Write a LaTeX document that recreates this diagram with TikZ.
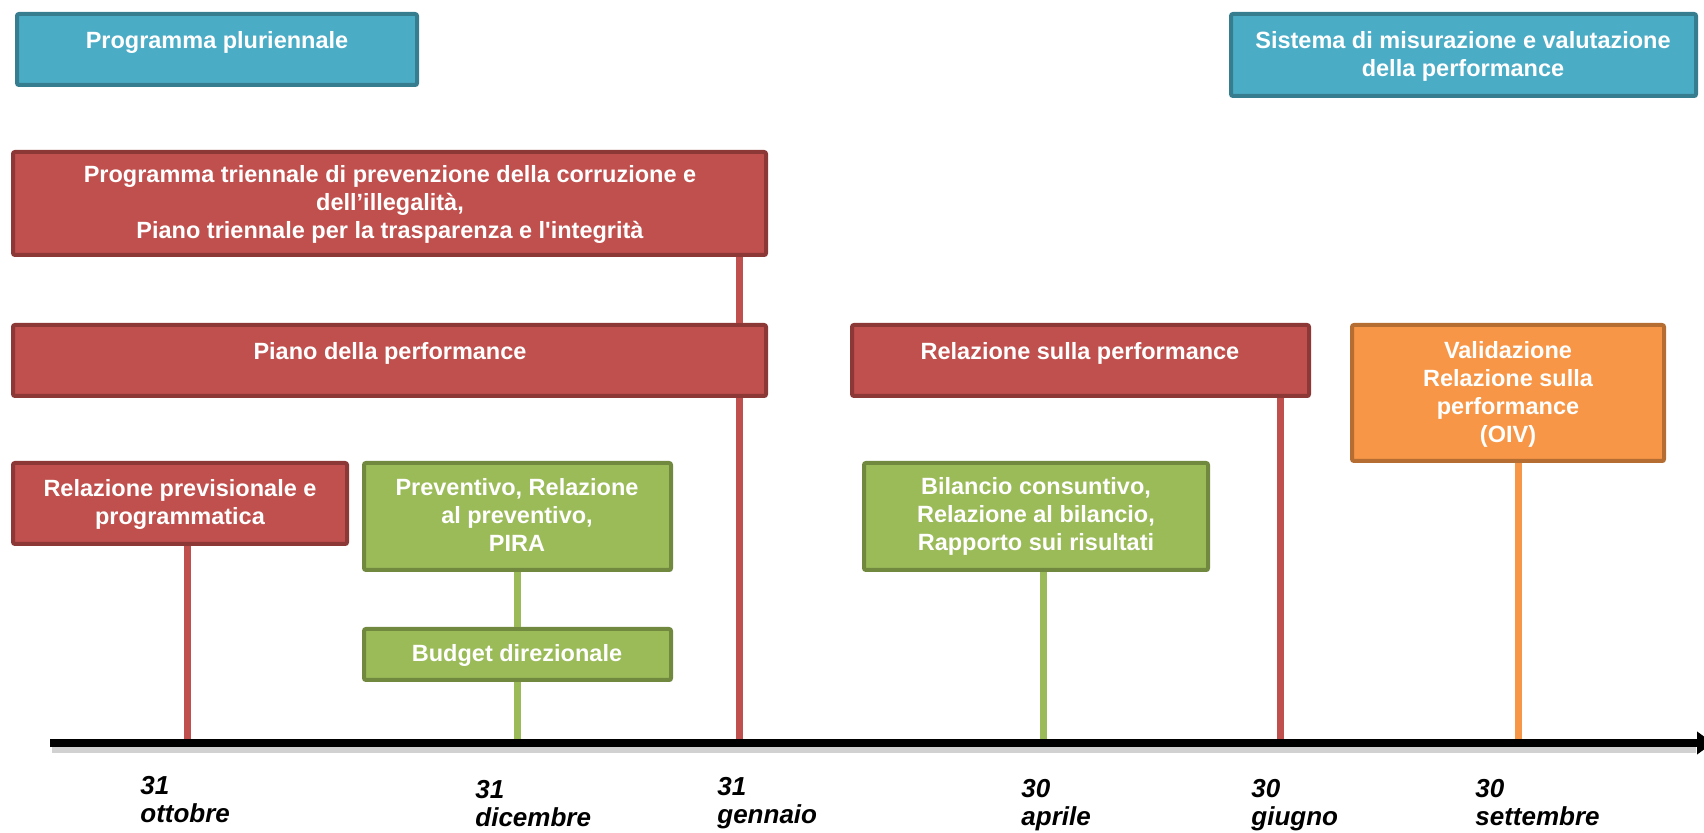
\documentclass[tikz,border=0pt]{standalone}
\usepackage{fontspec}
\setmainfont{Liberation Sans}
\newfontfamily\labfont{Liberation Sans}
\usetikzlibrary{arrows.meta,shadows}

\definecolor{tealfill}{HTML}{4BACC6}
\definecolor{tealedge}{HTML}{367D90}
\definecolor{redfill}{HTML}{C0504D}
\definecolor{rededge}{HTML}{8C3836}
\definecolor{greenfill}{HTML}{9BBB59}
\definecolor{greenedge}{HTML}{71893F}
\definecolor{orangefill}{HTML}{F79646}
\definecolor{orangeedge}{HTML}{B66D31}

\begin{document}
\begin{tikzpicture}[x=0.5pt,y=-0.5pt,
  card/.style={draw, line width=2pt, rounded corners=1pt, inner sep=0pt, anchor=north west,
    drop shadow={opacity=0.18, shadow xshift=0.8pt, shadow yshift=-1pt}},
  tealcard/.style={card, fill=tealfill, draw=tealedge},
  redcard/.style={card, fill=redfill, draw=rededge},
  greencard/.style={card, fill=greenfill, draw=greenedge},
  orangecard/.style={card, fill=orangefill, draw=orangeedge},
  % multi-line texts are placed by the baseline of their last line
  cardtext/.style={text=white, font=\labfont\bfseries\fontsize{11.75}{14}\selectfont,
    align=center, anchor=base, inner sep=0pt},
  datetext/.style={font=\labfont\bfseries\itshape\fontsize{13}{14}\selectfont,
    align=left, anchor=base west, inner sep=0pt},
  stem/.style={line width=3.5pt},
]
\useasboundingbox (0,0) rectangle (1704,833);

% ---- framework boxes
\node[tealcard, minimum width=200pt, minimum height=35.5pt] (plur) at (15,12) {};
\node[cardtext] (plurtxt) at (217,49) {Programma pluriennale};

\node[tealcard, minimum width=232.5pt, minimum height=41pt] (sist) at (1229,12) {};
\node[cardtext] (sisttxt) at (1463,77) {Sistema di misurazione e valutazione\\della performance};

% ---- planning documents
\node[redcard, minimum width=376.5pt, minimum height=51.5pt] (trien) at (11,150) {};
\node[cardtext] (trientxt) at (390,239)
  {Programma triennale di prevenzione della corruzione e\\dell’illegalità,\\Piano triennale per la trasparenza e l'integrità};

\node[redcard, minimum width=376.5pt, minimum height=35.5pt] (piano) at (11,323) {};
\node[cardtext] (pianotxt) at (390,360) {Piano della performance};

\node[redcard, minimum width=228.5pt, minimum height=35.5pt] (relperf) at (850,323) {};
\node[cardtext] (relperftxt) at (1080,360) {Relazione sulla performance};

\node[orangecard, minimum width=156pt, minimum height=68pt] (valid) at (1350,323) {};
\node[cardtext] (validtxt) at (1508,443) {Validazione\\Relazione sulla\\performance\\(OIV)};

\node[redcard, minimum width=167pt, minimum height=40.5pt] (relprev) at (11,461) {};
\node[cardtext] (relprevtxt) at (180,525) {Relazione previsionale e\\programmatica};

% ---- budget documents
\node[greencard, minimum width=153.5pt, minimum height=53.5pt] (prev) at (362,461) {};
\node[cardtext] (prevtxt) at (517,552) {Preventivo, Relazione\\al preventivo,\\PIRA};

\node[greencard, minimum width=153.5pt, minimum height=25.5pt] (budget) at (362,627) {};
\node[cardtext] (budgettxt) at (517,662) {Budget direzionale};

\node[greencard, minimum width=172pt, minimum height=53.5pt] (bilancio) at (862,461) {};
\node[cardtext] (bilanciotxt) at (1036,551) {Bilancio consuntivo,\\Relazione al bilancio,\\Rapporto sui risultati};

% ---- deadlines on the time axis
\coordinate (tott) at (187,739);
\coordinate (tdic) at (517,739);
\coordinate (tgen) at (739,739);
\coordinate (tapr) at (1043,739);
\coordinate (tgiu) at (1280,739);
\coordinate (tset) at (1518,739);

\draw[stem, redfill] (relprev.south -| tott) -- (tott);
\draw[stem, greenfill] (prev.south -| tdic) -- (budget.north -| tdic);
\draw[stem, greenfill] (budget.south -| tdic) -- (tdic);
\draw[stem, redfill] (trien.south -| tgen) -- (piano.north -| tgen);
\draw[stem, redfill] (piano.south -| tgen) -- (tgen);
\draw[stem, greenfill] (bilancio.south -| tapr) -- (tapr);
\draw[stem, redfill] (relperf.south -| tgiu) -- (tgiu);
\draw[stem, orangefill] (valid.south -| tset) -- (tset);

% ---- time axis
\coordinate (axstart) at (50,743);
\coordinate (axend) at (1713,743);
\draw[line width=3pt, black, opacity=0.18] (52,750) -- (1696,750);
\draw[line width=4pt, -{Triangle[length=8pt,width=11pt]}] (axstart) -- (axend);

\node[datetext] (dott) at (140,823) {31\\ottobre};
\node[datetext] (ddic) at (475,827) {31\\dicembre};
\node[datetext] (dgen) at (717,824) {31\\gennaio};
\node[datetext] (dapr) at (1021,826) {30\\aprile};
\node[datetext] (dgiu) at (1251,826) {30\\giugno};
\node[datetext] (dset) at (1475,826) {30\\settembre};
\end{tikzpicture}
\end{document}
